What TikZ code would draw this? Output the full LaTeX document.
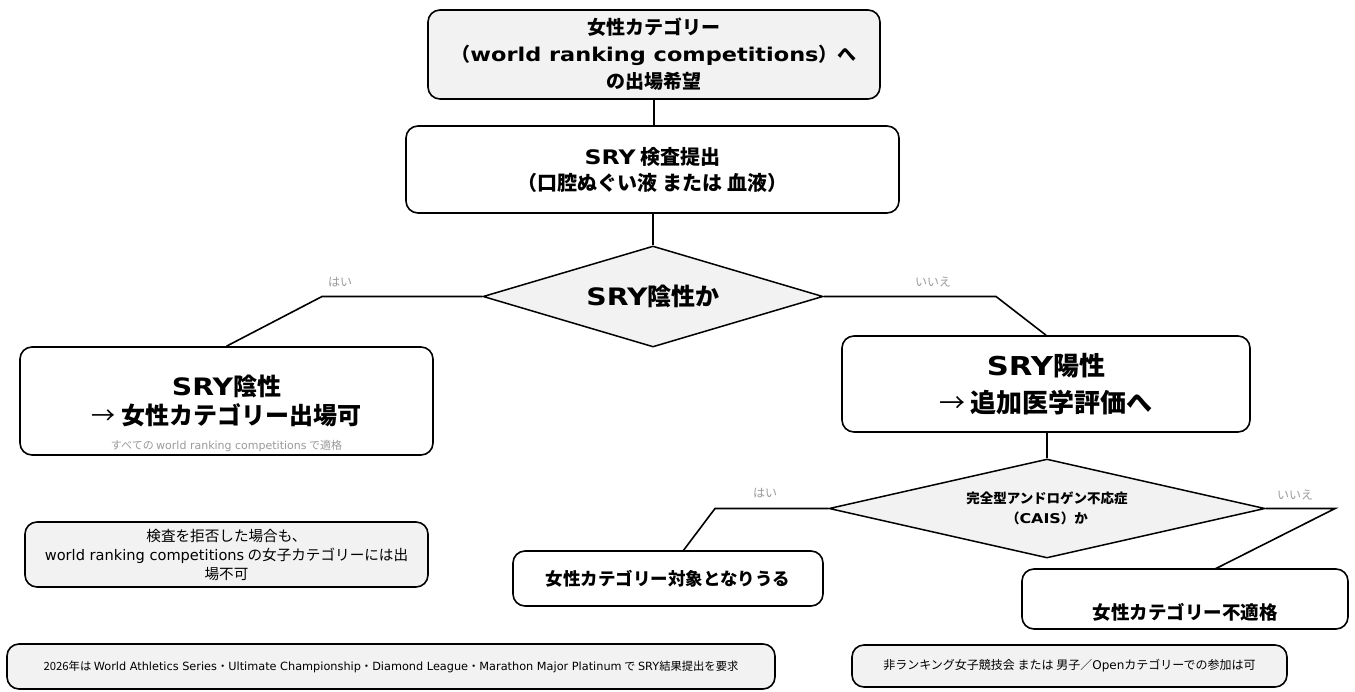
\documentclass[tikz,border=0pt]{standalone}
\usepackage{fontspec}
\setmainfont{Noto Sans CJK JP}
\newfontfamily\vd{DejaVu Sans}[BoldFeatures={FakeStretch=1.18}]
\newcommand{\V}[1]{{\vd #1}}
\newcommand{\thinarrow}{{\mdseries →}}
\usetikzlibrary{shapes.geometric}
\definecolor{boxgray}{HTML}{F2F2F2}
\definecolor{labgray}{HTML}{9A9A9A}
\tikzset{
  box/.style={draw=black, line width=1.6pt, rounded corners=12pt, inner sep=0pt, align=center, fill=white},
  gbox/.style={box, fill=boxgray},
  dia/.style={draw=black, diamond, line width=1.5pt, fill=boxgray, inner sep=0pt, align=center},
  conn/.style={line width=1.6pt},
  lab/.style={font=\fontsize{12}{14}\selectfont, text=labgray, inner sep=0pt},
}
\begin{document}
\begin{tikzpicture}[x=1pt,y=-1pt]
\useasboundingbox (0,0) rectangle (1355,691);

% top
\node[gbox, minimum width=452, minimum height=89,
      font=\fontsize{19}{27}\selectfont\bfseries] (top) at (654,54.5)
  {女性カテゴリー\\（\V{world ranking competitions}）へ\\の出場希望};
\node[box, minimum width=493, minimum height=87,
      font=\fontsize{20}{26}\selectfont\bfseries] (sry) at (652.5,169.5)
  {\V{SRY} 検査提出\\（口腔ぬぐい液 または 血液）};
\node[dia, shape aspect=3.37, minimum width=340, minimum height=101,
      font=\fontsize{24}{28}\selectfont\bfseries] (d1) at (653,296.5)
  {\V{SRY}陰性か};

% left result
\node[box, minimum width=413, minimum height=108,
      font=\fontsize{24}{29}\selectfont\bfseries] (lbox) at (226.5,401)
  {\V{SRY}陰性\\\thinarrow\ 女性カテゴリー出場可};
\node[font=\fontsize{11}{12}\selectfont, text=labgray, inner sep=0pt] (lsub) at (226.5,446)
  {すべての \V{world ranking competitions} で適格};

% right result
\node[box, minimum width=408, minimum height=96,
      font=\fontsize{26}{37}\selectfont\bfseries] (rbox) at (1046,384)
  {\V{SRY}陽性\\\thinarrow\ 追加医学評価へ};

% second decision
\node[dia, shape aspect=4.4, minimum width=436, minimum height=99,
      font=\fontsize{13.5}{20}\selectfont\bfseries] (d2) at (1047,508.5)
  {完全型アンドロゲン不応症\\（\V{CAIS}）か};

\node[box, minimum width=310, minimum height=55,
      font=\fontsize{17.5}{20}\selectfont\bfseries] (ybox) at (668,578.5)
  {女性カテゴリー対象となりうる};
\node[box, minimum width=326, minimum height=60] (nbox) at (1185,599) {};
\node[font=\fontsize{18.5}{20}\selectfont\bfseries, inner sep=0pt] (ntext) at (1185,612)
  {女性カテゴリー不適格};

% notes
\node[gbox, minimum width=403, minimum height=65,
      font=\fontsize{14.6}{19}\selectfont] (refuse) at (226.5,554.5)
  {検査を拒否した場合も、\\\V{world ranking competitions} の女子カテゴリーには出\\場不可};
\node[gbox, minimum width=768, minimum height=45,
      font=\fontsize{11.3}{13}\selectfont] (note1) at (391,666.5)
  {2026年は \V{World Athletics Series}・\V{Ultimate Championship}・\V{Diamond League}・\V{Marathon Major Platinum} で \V{SRY}結果提出を要求};
\node[gbox, minimum width=435, minimum height=42,
      font=\fontsize{12}{14}\selectfont] (note2) at (1069.5,666)
  {非ランキング女子競技会 または 男子／\V{Open}カテゴリーでの参加は可};

% connectors
\coordinate (b1) at (322,296.5);
\coordinate (b2) at (996,296.5);
\coordinate (b3) at (715,508.5);
\coordinate (e3) at (683,551);
\coordinate (b4) at (1335,508.5);
\coordinate (e4) at (1215,569);

\draw[conn] (top.south) -- (top.south |- sry.north);
\draw[conn] (d1.north |- sry.south) -- (d1.north);
\draw[conn] (d1.west) -- (b1) -- (lbox.north);
\draw[conn] (d1.east) -- (b2) -- (rbox.north);
\draw[conn] (d2.north |- rbox.south) -- (d2.north);
\draw[conn] (d2.west) -- (b3) -- (e3);
\draw[conn] (d2.east) -- (b4) -- (e4);

% branch labels
\node[lab] (l1) at (340,282) {はい};
\node[lab] (l2) at (933,282) {いいえ};
\node[lab] (l3) at (765,493) {はい};
\node[lab] (l4) at (1295,495) {いいえ};
\end{tikzpicture}
\end{document}
